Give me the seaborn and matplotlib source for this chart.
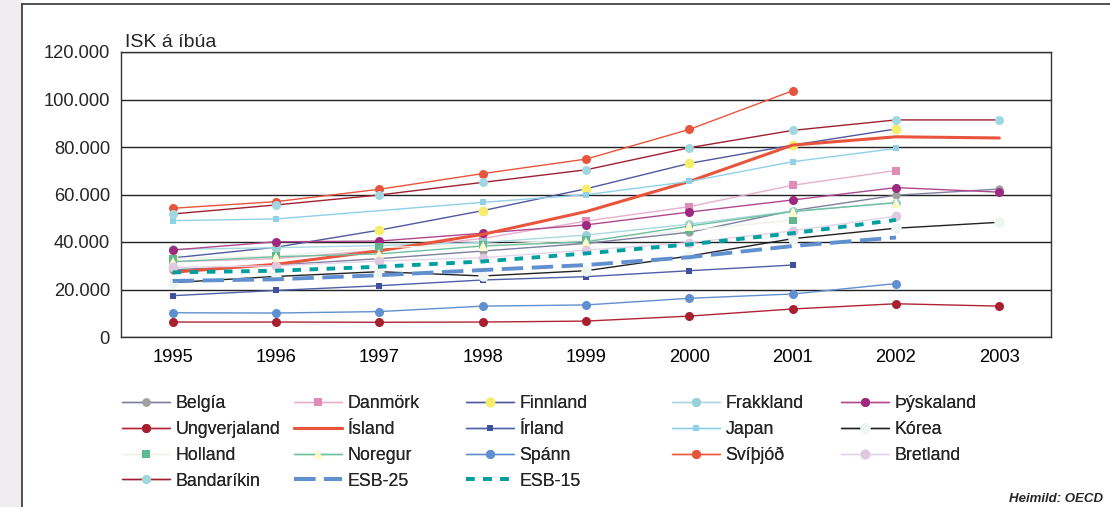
import seaborn as sns
import matplotlib.pyplot as plt
import pandas as pd
import numpy as np
from matplotlib.ticker import FuncFormatter
from matplotlib.lines import Line2D
from matplotlib.patches import Rectangle

sns.set_style('white')
plt.rcParams['font.family'] = ['Liberation Sans', 'DejaVu Sans']

# Gögn: ISK á íbúa
ar = [1995, 1996, 1997, 1998, 1999, 2000, 2001, 2002, 2003]
belgia = [28300, 30300, 33000, 36200, 39400, 44100, 53200, 59700, 62300]
danmork = [31700, 33000, 36600, 41500, 48800, 54900, 63900, 70100, None]
finnland = [33300, 37800, 45000, 53200, 62400, 73100, 80800, 87600, None]
frakkland = [36900, 37600, 38500, 39800, 42900, 47500, 53000, 56500, None]
thyskaland = [36600, 40100, 40400, 43700, 47200, 52600, 57700, 62900, 61000]
ungverjaland = [6300, 6300, 6200, 6300, 6700, 8800, 11800, 14000, 13000]
island = [27300, 30600, 36300, 43200, 52800, 65500, 80800, 84300, 83800]
irland = [17400, 19600, 21600, 24000, 25400, 27900, 30300, None, None]
japan = [49000, 49700, None, 56700, 59900, 65500, 73800, 79400, None]
korea = [22900, 25500, 27500, 25700, 27900, 34100, 41400, 45800, 48300]
holland = [33000, 34100, 37700, 38700, 40800, 45000, 49200, None, None]
noregur = [31700, 33800, 35000, 38300, 40100, 46700, 52800, 56600, None]
spann = [10200, 10100, 10700, 13000, 13500, 16300, 18100, 22500, None]
svithjod = [54200, 57000, 62200, 68800, 74900, 87400, 103700, None, None]
bretland = [29300, 30000, 32000, 33400, 36600, 39700, 44700, 50900, None]
bandarikin = [51800, 55600, 59800, 65100, 70400, 79700, 87000, 91400, 91400]
esb25 = [23600, 24300, 26000, 28200, 30300, 33600, 38300, 41900, None]
esb15 = [27200, 27900, 29600, 31800, 35200, 39000, 43700, 49300, None]

# nafn, gögn, línulitur, breidd, merki, stærð, merkislitur, línustíll
stilar = [
    ('Belgía', belgia, '#7f7fa0', 1.0, 'o', 6.0, '#a0a0a0', '-'),
    ('Danmörk', danmork, '#e8b0cc', 1.0, 's', 6.0, '#e08cb8', '-'),
    ('Finnland', finnland, '#5058a0', 1.0, 'o', 7.0, '#f4ee6a', '-'),
    ('Frakkland', frakkland, '#a8d8e0', 1.0, 'o', 6.5, '#98d0d8', '-'),
    ('Þýskaland', thyskaland, '#b04890', 1.0, 'o', 6.5, '#a02880', '-'),
    ('Ungverjaland', ungverjaland, '#b02434', 1.0, 'o', 6.5, '#a82030', '-'),
    ('Ísland', island, '#e8553c', 2.2, '', 0, '#e8553c', '-'),
    ('Írland', irland, '#5060a8', 1.0, 's', 5.0, '#4050a0', '-'),
    ('Japan', japan, '#90d0e8', 1.0, 's', 5.0, '#90d0e8', '-'),
    ('Kórea', korea, '#222222', 1.0, 'o', 7.5, '#eef4f0', '-'),
    ('Holland', holland, '#eef2e8', 1.0, 's', 6.0, '#60b890', '-'),
    ('Noregur', noregur, '#70c0a0', 1.0, '^', 7.0, '#fffacc', '-'),
    ('Spánn', spann, '#6090d0', 1.0, 'o', 6.5, '#6090d0', '-'),
    ('Svíþjóð', svithjod, '#e8553c', 1.0, 'o', 6.5, '#e8553c', '-'),
    ('Bretland', bretland, '#e4d4ea', 1.0, 'o', 7.0, '#e0c8e0', '-'),
    ('Bandaríkin', bandarikin, '#a02030', 1.0, 'o', 6.5, '#a0d8e0', '-'),
    ('ESB-25', esb25, '#6090d0', 2.8, '', 0, '#6090d0', (0, (5.5, 2.2))),
    ('ESB-15', esb15, '#00a0a0', 2.8, '', 0, '#00a0a0', (0, (2.2, 2.2))),
]

fig = plt.figure(figsize=(11.1, 5.07), dpi=100)
fig.patches.append(Rectangle((0, 0), 22 / 1110, 1, transform=fig.transFigure,
                             facecolor='#f0ecf0', edgecolor='none', zorder=0))
fig.lines.append(Line2D([22 / 1110, 22 / 1110], [0, 1 - 4 / 507], transform=fig.transFigure,
                        color='#333333', lw=1.2))
fig.lines.append(Line2D([22 / 1110, 1], [1 - 4 / 507, 1 - 4 / 507], transform=fig.transFigure,
                        color='#333333', lw=1.2))

ax = fig.add_axes([121 / 1110, 1 - 337 / 507, 930 / 1110, 285 / 507])

handles = {}
for nafn, gogn, litur, lw, merki, ms, mfc, ls in stilar:
    d = pd.DataFrame({'ar': ar, 'gildi': [np.nan if v is None else v for v in gogn]}).dropna()
    sns.lineplot(data=d, x='ar', y='gildi', ax=ax, color=litur, lw=lw,
                 marker=merki if merki else None, markersize=ms,
                 markerfacecolor=mfc, markeredgecolor=mfc, markeredgewidth=0,
                 linestyle=ls, label=nafn)
    handles[nafn] = ax.lines[-1]

if ax.legend_:
    ax.legend_.remove()

ax.set_xlim(1994.5, 2003.5)
ax.set_ylim(0, 120000)
ax.set_yticks(range(0, 120001, 20000))
ax.yaxis.set_major_formatter(FuncFormatter(lambda v, p: f'{int(v):,}'.replace(',', '.')))
ax.set_xticks(ar)
ax.set_xticklabels([str(a) for a in ar])
ax.set_xticks([a + 0.5 for a in ar[:-1]], minor=True)
ax.tick_params(axis='x', which='major', length=0, pad=9, labelsize=13.2, colors='black')
ax.tick_params(axis='x', which='minor', length=4, width=1, direction='out', color='#333333')
ax.tick_params(axis='y', length=6, width=1, direction='out', pad=2, labelsize=13.2, color='#333333')
ax.yaxis.grid(True, color='#222222', lw=1.0)
ax.set_axisbelow(True)
ax.set_xlabel('')
ax.set_ylabel('')
for s in ax.spines.values():
    s.set_color('#333333')
    s.set_linewidth(1.0)

fig.text(125 / 1110, 1 - 47 / 507, 'ISK á íbúa', ha='left', va='baseline', fontsize=14)

# Skýringar, fimm dálkar eins og í Excel
dalkar = [['Belgía', 'Ungverjaland', 'Holland', 'Bandaríkin'],
          ['Danmörk', 'Ísland', 'Noregur', 'ESB-25'],
          ['Finnland', 'Írland', 'Spánn', 'ESB-15'],
          ['Frakkland', 'Japan', 'Svíþjóð'],
          ['Þýskaland', 'Kórea', 'Bretland']]
dalk_x = [122 / 1110, 294 / 1110, 466 / 1110, 672 / 1110, 841 / 1110]
for nofn, x0 in zip(dalkar, dalk_x):
    leg = fig.legend([handles[n] for n in nofn], nofn, loc='upper left',
                     bbox_to_anchor=(x0, 1 - 395 / 507), frameon=False, fontsize=12.8,
                     handlelength=2.7, handletextpad=0.3, labelspacing=0.5,
                     borderpad=0, borderaxespad=0, numpoints=1)
    fig.add_artist(leg)

fig.text(1103 / 1110, 1 - 502 / 507, 'Heimild: OECD', ha='right', va='baseline',
         fontsize=9.5, fontweight='bold', fontstyle='italic')

fig.savefig('out.png', dpi=100, facecolor='white')
